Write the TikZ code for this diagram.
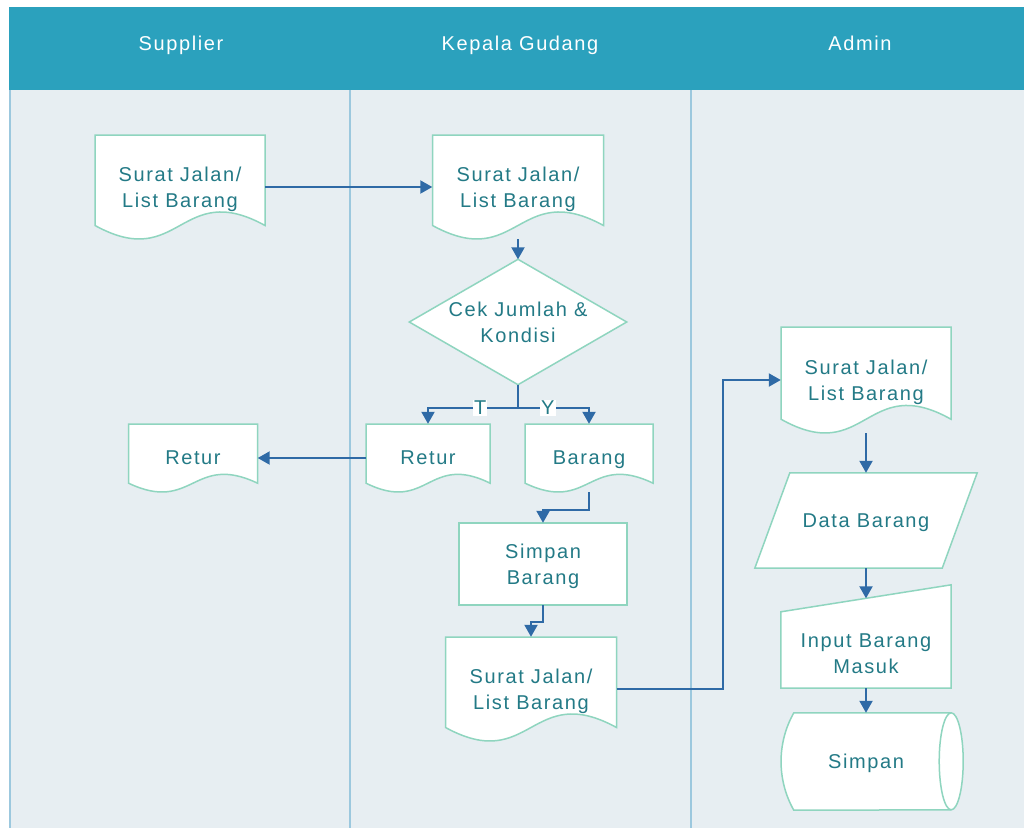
\documentclass[tikz,border=0pt]{standalone}
\usepackage{fontspec}
\setmainfont[LetterSpace=8]{Liberation Sans}
\usetikzlibrary{arrows.meta,calc}
\pgfdeclarelayer{lajur}
\pgfdeclarelayer{bentuk}
\pgfsetlayers{lajur,bentuk,main}

\definecolor{kepala}{HTML}{2BA1BD}
\definecolor{latar}{HTML}{E7EEF2}
\definecolor{garislajur}{HTML}{9CC8DE}
\definecolor{tepi}{HTML}{8FD5BF}
\definecolor{tulisan}{HTML}{237A86}
\definecolor{panahbiru}{HTML}{2F6AA6}

% dokumen: nama, x, y, lebar, tinggi, teks
\newcommand{\dok}[6]{%
\node[teks, minimum width=#4, minimum height=#5] (#1) at (#2,#3) {#6};
\begin{pgfonlayer}{bentuk}
\draw[tepibentuk] (#2-#4/2,#3-#5/2) -- (#2+#4/2,#3-#5/2) -- (#2+#4/2,#3+0.37*#5)
  .. controls (#2,#3-0.08*#5) and (#2,#3+0.82*#5) .. (#2-#4/2,#3+0.37*#5) -- cycle;
\end{pgfonlayer}}

\begin{document}
\begin{tikzpicture}[x=1pt,y=-1pt,
  teks/.style={text=tulisan, align=center, font=\fontsize{20}{26}\selectfont, inner sep=0pt, text depth=0pt},
  judul/.style={text=white, font=\fontsize{20}{24}\selectfont, inner sep=0pt, text depth=0pt},
  huruf/.style={text=tulisan, fill=white, font=\fontsize{20}{24}\selectfont, inner sep=1pt},
  tepibentuk/.style={draw=tepi, line width=1.5pt, fill=white},
  garispanah/.style={draw=panahbiru, line width=2pt},
  panah/.style={garispanah, -{Triangle[width=13pt,length=12pt]}}]
\useasboundingbox (0,0) rectangle (1024,828);

% lajur
\begin{pgfonlayer}{lajur}
\fill[latar] (9,90) rectangle (1024,828);
\fill[kepala] (9,7) rectangle (1024,90);
\draw[garislajur, line width=2pt] (10,90) -- (10,828);
\draw[garislajur, line width=2pt] (350,90) -- (350,828);
\draw[garislajur, line width=2pt] (691,90) -- (691,828);
\end{pgfonlayer}
\node[judul] (jsup) at (181,43) {Supplier};
\node[judul] (jkg) at (520,43) {Kepala Gudang};
\node[judul] (jadm) at (860,43) {Admin};

% supplier
\dok{sjsup}{180}{187}{170}{104}{Surat Jalan/\\List Barang}
\dok{retursup}{193}{458}{129}{68}{Retur}

% kepala gudang
\dok{sjkg}{518}{187}{171}{104}{Surat Jalan/\\List Barang}
\node[teks, minimum width=217, minimum height=125] (cek) at (518,322) {Cek Jumlah \&\\Kondisi};
\dok{returkg}{428}{458}{124}{68}{Retur}
\dok{barang}{589}{458}{128}{68}{Barang}
\node[teks, minimum width=168, minimum height=82] (sb) at (543,564) {Simpan\\Barang};
\dok{sjkg2}{531}{689}{171}{104}{Surat Jalan/\\List Barang}

% admin
\dok{sjadm}{866}{380}{170}{106}{Surat Jalan/\\List Barang}
\node[teks, minimum width=222, minimum height=95] (data) at (866,520.5) {Data Barang};
\node[teks, minimum width=170, minimum height=68] (input) at (866,654) {Input Barang\\Masuk};
\node[teks, minimum width=170, minimum height=97] (simpan) at (866,761.5) {Simpan};

\begin{pgfonlayer}{bentuk}
\draw[tepibentuk] (cek.north) -- (cek.east) -- (cek.south) -- (cek.west) -- cycle;
\draw[tepibentuk] (sb.north west) rectangle (sb.south east);
\draw[tepibentuk] ([xshift=35pt]data.north west) -- (data.north east) -- ([xshift=-35pt]data.south east) -- (data.south west) -- cycle;
\draw[tepibentuk] ([yshift=8pt]input.north west) -- ([yshift=35pt]input.north east) -- (input.south east) -- (input.south west) -- cycle;
\draw[tepibentuk] ([xshift=13pt]simpan.north west) -- (simpan.north east)
  arc[start angle=90, end angle=-90, x radius=12pt, y radius=48.5pt]
  -- ([xshift=13pt]simpan.south west)
  .. controls ($(simpan.south west)+(-4,-30)$) and ($(simpan.north west)+(-4,30)$) .. ([xshift=13pt]simpan.north west) -- cycle;
\draw[draw=tepi, line width=1.5pt] (simpan.north east) arc[start angle=90, end angle=270, x radius=12pt, y radius=48.5pt];
\end{pgfonlayer}

% panah
\draw[panah] (sjsup.east) -- (sjkg.west);
\draw[panah] (sjkg.south) -- (cek.north);
\coordinate (cabang) at ($(cek.south)+(0,23)$);
\draw[garispanah] (cek.south) -- (cabang);
\draw[panah] (cabang) -| node[pos=0.21, huruf] {T} (returkg.north);
\draw[panah] (cabang) -| node[pos=0.21, huruf] {Y} (barang.north);
\draw[panah] (returkg.west) -- (retursup.east);
\draw[panah] (barang.south) -- ++(0,18) -| (sb.north);
\draw[panah] (sb.south) -- ++(0,17) -| (sjkg2.north);
\draw[panah] (sjkg2.east) -- ++(106,0) |- (sjadm.west);
\draw[panah] (sjadm.south) -- (data.north);
\draw[panah] (data.south) -- ([yshift=21.5pt]input.north);
\draw[panah] (input.south) -- (simpan.north);
\end{tikzpicture}
\end{document}
